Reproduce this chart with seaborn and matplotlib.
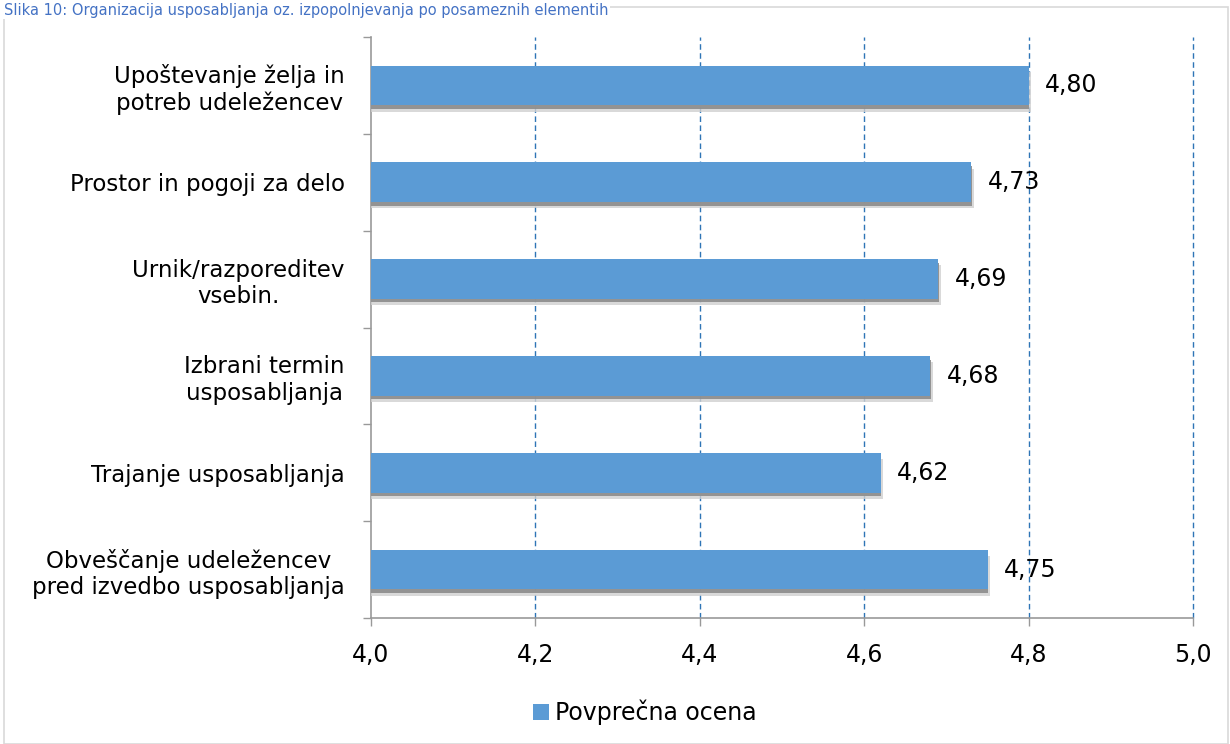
import matplotlib
matplotlib.use("Agg")
import matplotlib.pyplot as plt
import matplotlib.patheffects as pe
import seaborn as sns
import numpy as np
import pandas as pd
from matplotlib.patches import Rectangle

# data
categories = [
    "Upoštevanje želja in\npotreb udeležencev",
    "Prostor in pogoji za delo",
    "Urnik/razporeditev\nvsebin.",
    "Izbrani termin\nusposabljanja",
    "Trajanje usposabljanja",
    "Obveščanje udeležencev\npred izvedbo usposabljanja",
]
values = [4.80, 4.73, 4.69, 4.68, 4.62, 4.75]
series_name = "Povprečna ocena"
x_ticks = [4.0, 4.2, 4.4, 4.6, 4.8, 5.0]
title = "Slika 10: Organizacija usposabljanja oz. izpopolnjevanja po posameznih elementih"

BAR = "#5B9BD5"
GRID = "#2E75B6"

sns.set_theme(style="white")
plt.rcParams["font.family"] = ["DejaVu Sans"]
plt.rcParams["text.color"] = "black"

df = pd.DataFrame({"cat": categories, "val": values})

fig = plt.figure(figsize=(12.3, 7.44), dpi=100)
ax = fig.add_axes([371 / 1230, 1 - 618 / 744, (1193 - 371) / 1230, (618 - 37) / 744])

sns.barplot(data=df, x="val", y="cat", orient="h", color=BAR, width=0.41,
            saturation=1, ax=ax, label=series_name, zorder=3,
            edgecolor="none", linewidth=0)

for p in ax.patches:
    p.set_path_effects([
        pe.SimplePatchShadow(offset=(2, -4.5), shadow_rgbFace="#d0d0d0", alpha=0.8),
        pe.SimplePatchShadow(offset=(0.5, -2.5), shadow_rgbFace="#8c8c8c", alpha=0.9),
        pe.Normal()])

ax.set_xlim(4.0, 5.0)
ax.set_ylim(len(categories) - 0.5, -0.5)
ax.set_xticks(x_ticks)
ax.set_xticklabels([f"{t:.1f}".replace(".", ",") for t in x_ticks], fontsize=17, color="black")
ax.set_xlabel("")
ax.set_ylabel("")
ax.tick_params(axis="x", length=6, width=1, color="#999999", pad=12, bottom=True)
ax.tick_params(axis="y", which="major", length=0, pad=19, labelsize=16.5, labelcolor="black")
ax.set_yticks(np.arange(-0.5, len(categories), 1), minor=True)
ax.tick_params(axis="y", which="minor", length=6, width=1, color="#999999", left=True)
for lbl in ax.get_yticklabels():
    lbl.set_multialignment("center")

for t in x_ticks[1:]:
    ax.axvline(t, color=GRID, linestyle=(0, (4, 2.5)), linewidth=1, zorder=1, clip_on=False)

for sp in ["top", "right"]:
    ax.spines[sp].set_visible(False)
for sp in ["left", "bottom"]:
    ax.spines[sp].set_color("#999999")
    ax.spines[sp].set_linewidth(1.2)

for i, v in enumerate(values):
    ax.text(v + 0.02, i, f"{v:.2f}".replace(".", ","), va="center", ha="left",
            fontsize=17, color="black", zorder=5)

leg = ax.legend(loc="center", bbox_to_anchor=(0.333, -0.163), frameon=False,
                fontsize=17, handlelength=0.65, handleheight=0.65, handletextpad=0.25)
for h in leg.legend_handles:
    h.set_path_effects([])

# chart frame
fig.patches.append(Rectangle((4 / 1230, 0), 1224 / 1230, 1 - 7 / 744, transform=fig.transFigure,
                             fill=False, edgecolor="#D9D9D9", linewidth=1.2))
fig.text(4 / 1230, 1 - 15 / 744, title, color="#4472C4", fontsize=10.5, va="baseline", ha="left",
         bbox=dict(facecolor="white", edgecolor="none", pad=1))

fig.savefig("out.png", dpi=100, facecolor="white")
